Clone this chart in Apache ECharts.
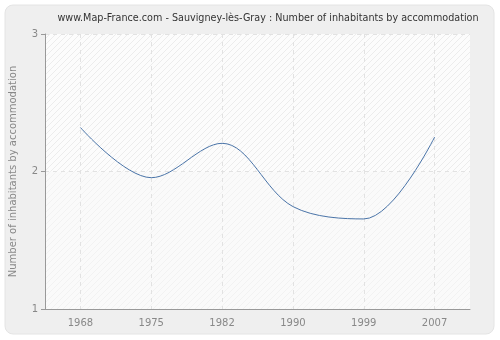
<!DOCTYPE html>
<html><head><meta charset="utf-8">
<script src="https://cdn.jsdelivr.net/npm/echarts@6/dist/echarts.min.js"></script>
<style>html,body{margin:0;padding:0;background:#fff}#c{width:500px;height:340px}</style>
</head><body><div id="c"></div>
<script>
var years = ['1968','1975','1982','1990','1999','2007'];
var values = [2.32, 1.955, 2.205, 1.745, 1.655, 2.25];
var yTicks = [1, 2, 3];

function hatch(bg, line) {
  var c = document.createElement('canvas');
  c.width = 6; c.height = 6;
  var g = c.getContext('2d');
  g.fillStyle = bg; g.fillRect(0, 0, 6, 6);
  g.strokeStyle = line; g.lineWidth = 1;
  g.beginPath();
  g.moveTo(0, 6); g.lineTo(6, 0);
  g.moveTo(-3, 3); g.lineTo(3, -3);
  g.moveTo(3, 9); g.lineTo(9, 3);
  g.stroke();
  return {image: c, repeat: 'repeat'};
}

var chart = echarts.init(document.getElementById('c'), null, {renderer: 'canvas'});
chart.setOption({
  animation: false,
  backgroundColor: '#ffffff',
  graphic: [{
    type: 'rect', z: -10, silent: true,
    shape: {x: 5, y: 5, width: 489, height: 329, r: 8},
    style: {fill: '#efefef', stroke: '#e4e4e4', lineWidth: 1}
  }],
  title: {
    text: 'www.Map-France.com - Sauvigney-lès-Gray : Number of inhabitants by accommodation',
    left: 263, top: 8, textAlign: 'center',
    textStyle: {fontFamily: 'DejaVu Sans Condensed', fontSize: 10.7, fontWeight: 'normal', color: '#333'}
  },
  grid: {left: 40, right: 30, top: 34, bottom: 31, show: true, backgroundColor: '#ffffff', borderWidth: 0},
  xAxis: {
    type: 'category', data: years, boundaryGap: true,
    axisLine: {lineStyle: {color: '#999'}},
    axisTick: {alignWithLabel: true, length: 4, lineStyle: {color: '#999'}},
    axisLabel: {color: '#888', fontFamily: 'DejaVu Sans', fontSize: 10, margin: 9},
    splitLine: {show: true, alignWithLabel: true, lineStyle: {color: '#e2e2e2', type: [4, 4]}}
  },
  yAxis: {
    type: 'value', min: 1, max: 3, interval: 1,
    name: 'Number of inhabitants by accommodation', nameLocation: 'middle', nameGap: 27,
    nameTextStyle: {color: '#888', fontFamily: 'DejaVu Sans', fontSize: 10},
    axisLine: {show: true, lineStyle: {color: '#999'}},
    axisTick: {show: true, length: 4, lineStyle: {color: '#999'}},
    axisLabel: {color: '#888', fontFamily: 'DejaVu Sans', fontSize: 10, margin: 7,
      formatter: function (v) { return yTicks.indexOf(v) >= 0 ? String(v) : ''; }},
    splitLine: {show: true, lineStyle: {color: '#e2e2e2', type: [4, 4]}},
    splitArea: {show: true, areaStyle: {color: [hatch('#fafafa', '#f2f2f2'), hatch('#fcfcfc', '#ececec')]}}
  },
  series: [{
    type: 'line', data: values, smooth: 0.35, symbol: 'none',
    lineStyle: {color: '#4a74a8', width: 1}
  }]
});
</script></body></html>
